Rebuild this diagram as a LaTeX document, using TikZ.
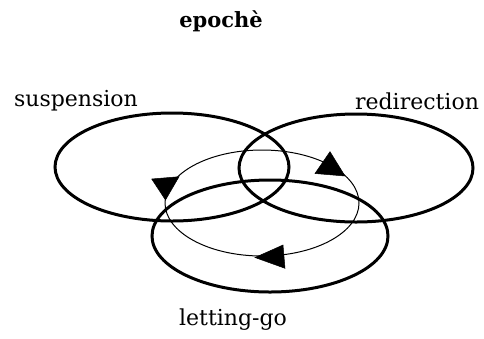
\documentclass[tikz,border=0pt]{standalone}
\usepackage{fontspec}
\setmainfont{DejaVu Serif}
\begin{document}
\begin{tikzpicture}[x=1pt,y=-1pt,
  ring/.style={line width=3pt},
  cycle/.style={line width=1pt},
  tri/.style={fill=black,draw=black,line width=0.5pt,line join=miter},
  lbl/.style={font=\fontsize{22}{26}\selectfont, inner sep=0pt}]
\useasboundingbox (0,0) rectangle (484,338);
% three circles
\draw[ring] (172,167) ellipse [x radius=117, y radius=54];
\draw[ring] (356,168) ellipse [x radius=117, y radius=54];
\draw[ring] (270,236) ellipse [x radius=118, y radius=56];
% thin cycle
\draw[cycle] (262,203) ellipse [x radius=97, y radius=53];
% arrowheads
\fill[tri] (151.7,179) -- (179,176.7) -- (165.5,200) -- cycle;
\fill[tri] (330,151.7) -- (315,173.5) -- (345,176) -- cycle;
\fill[tri] (283,245) -- (255,257.5) -- (285,268.3) -- cycle;
% labels
\node[lbl, font=\bfseries\fontsize{21}{24}\selectfont] (t) at (221,21) {epochè};
\node[lbl] (s) at (76,101) {suspension};
\node[lbl] (r) at (417,101) {redirection};
\node[lbl] (l) at (233,320) {letting-go};
\end{tikzpicture}
\end{document}
